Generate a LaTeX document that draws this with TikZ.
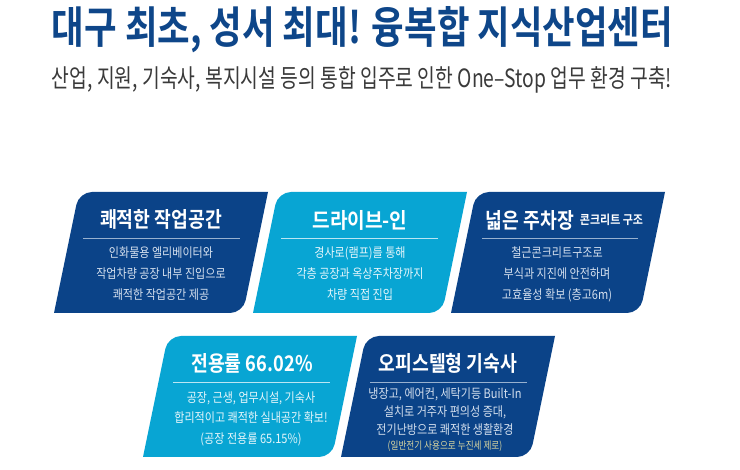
\documentclass[tikz,border=0pt]{standalone}
\usepackage{fontspec}
\setmainfont{Noto Sans CJK KR}
\newfontfamily\krbold{Noto Sans CJK KR Bold}[BoldFont={}]
\definecolor{navy}{HTML}{0B4388}
\definecolor{sky}{HTML}{08A5D3}
\definecolor{headblue}{HTML}{0E4689}
\definecolor{subgrey}{HTML}{3A3A3A}
\definecolor{navytext}{HTML}{D5E0EE}
\definecolor{skytext}{HTML}{E6F6FB}
\definecolor{noteyellow}{HTML}{D9D6A0}
\newcommand{\cardshape}[3]{%
  \fill[#3] (#1,#2+121) [rounded corners=13pt] -- (#1+25,#2) [sharp corners] -- (#1+214,#2)
    [rounded corners=13pt] -- (#1+189,#2+121) [sharp corners] -- cycle;}
\newcommand{\cardtitle}[2][.85]{\scalebox{#1}[1]{\fontsize{21.5}{21.5}\selectfont\krbold #2}}
\newcommand{\cardbody}[2][.85]{\scalebox{#1}[1]{\fontsize{13}{13}\selectfont #2}}
\tikzset{
  label/.style={inner sep=0pt,outer sep=0pt,anchor=center},
  ruleN/.style={line width=.7pt,color=#1}
}
\begin{document}
\begin{tikzpicture}[x=1pt,y=-1pt]
\useasboundingbox (0,0) rectangle (740,470);
\fill[white] (0,0) rectangle (740,470);
\node[label,text=headblue] (head) at (362.5,30) {\resizebox{621pt}{37pt}{\krbold 대구 최초, 성서 최대! 융복합 지식산업센터}};
\node[label,text=subgrey] (sub) at (362,80) {\resizebox{620pt}{21pt}{\fontsize{20}{20}\selectfont 산업, 지원, 기숙사, 복지시설 등의 통합 입주로 인한 One–Stop 업무 환경 구축!}};
% row 1
\cardshape{54}{192}{navy}
\cardshape{253}{192}{sky}
\cardshape{451}{192}{navy}
% row 2
\cardshape{143}{336}{sky}
\cardshape{341}{336}{navy}
% card 1
\node[label,text=white] (t1) at (161,219) {\cardtitle{쾌적한 작업공간}};
\draw[ruleN=navytext!70!navy] (83,238) -- (240,238);
\node[label,text=navytext] (a1) at (161,253) {\cardbody{인화물용 엘리베이터와}};
\node[label,text=navytext] (a2) at (161,274) {\cardbody{작업차량 공장 내부 진입으로}};
\node[label,text=navytext] (a3) at (161,295) {\cardbody{쾌적한 작업공간 제공}};
% card 2
\node[label,text=white] (t2) at (360,220) {\cardtitle[.89]{드라이브-인}};
\draw[ruleN=skytext!80!sky] (281,238) -- (438,238);
\node[label,text=skytext] (b1) at (360,253) {\cardbody{경사로(램프)를 통해}};
\node[label,text=skytext] (b2) at (360,274) {\cardbody{각층 공장과 옥상주차장까지}};
\node[label,text=skytext] (b3) at (360,295) {\cardbody{차량 직접 진입}};
% card 3
\node[label,text=white] (t3) at (530,220) {\cardtitle{넓은 주차장}};
\node[label,text=white] (t3s) at (611.5,220) {\scalebox{.88}[1]{\fontsize{12.5}{12.5}\selectfont\krbold 콘크리트 구조}};
\draw[ruleN=navytext!70!navy] (482,238) -- (638,238);
\node[label,text=navytext] (c1) at (557,253) {\cardbody{철근콘크리트구조로}};
\node[label,text=navytext] (c2) at (557,274) {\cardbody{부식과 지진에 안전하며}};
\node[label,text=navytext] (c3) at (557,295) {\cardbody{고효율성 확보 (층고6m)}};
% card 4
\node[label,text=white] (t4) at (252,363) {\cardtitle{전용률 66.02\%}};
\draw[ruleN=skytext!80!sky] (173,382) -- (330,382);
\node[label,text=skytext] (d1) at (251,398) {\cardbody{공장, 근생, 업무시설, 기숙사}};
\node[label,text=skytext] (d2) at (251,418) {\cardbody{합리적이고 쾌적한 실내공간 확보!}};
\node[label,text=skytext] (d3) at (251,439) {\cardbody{(공장 전용률 65.15\%)}};
% card 5
\node[label,text=white] (t5) at (448,363) {\cardtitle{오피스텔형 기숙사}};
\draw[ruleN=navytext!70!navy] (370,382) -- (527,382);
\node[label,text=navytext] (e1) at (445,394) {\cardbody{냉장고, 에어컨, 세탁기등 Built-In}};
\node[label,text=navytext] (e2) at (445,412) {\cardbody{설치로 거주자 편의성 증대,}};
\node[label,text=navytext] (e3) at (445,430) {\cardbody{전기난방으로 쾌적한 생활환경}};
\node[label,text=noteyellow] (e4) at (445,446) {\scalebox{.82}[1]{\fontsize{10.5}{10.5}\selectfont (일반전기 사용으로 누진세 제로)}};
\end{tikzpicture}
\end{document}
